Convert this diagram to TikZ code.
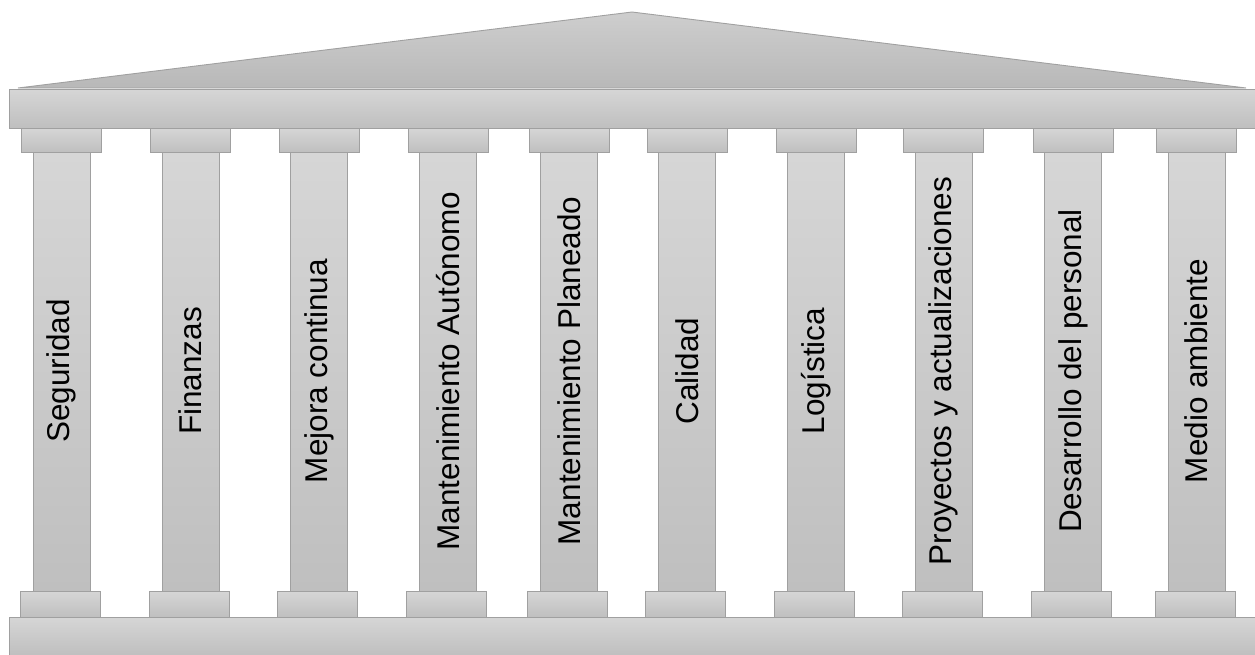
\documentclass[tikz,border=0pt]{standalone}
\usepackage{fontspec}
\setmainfont{Liberation Sans}
\definecolor{stoneTop}{RGB}{214,214,214}
\definecolor{stoneBot}{RGB}{191,191,191}
\definecolor{roofTop}{RGB}{206,206,206}
\definecolor{roofBot}{RGB}{184,184,184}
\definecolor{stoneEdge}{RGB}{160,160,160}
\tikzset{
  stone/.style={draw=stoneEdge, line width=0.9pt, top color=stoneTop, bottom color=stoneBot},
  roof/.style={draw=stoneEdge, line width=0.9pt, top color=roofTop, bottom color=roofBot},
  pillartext/.style={rotate=90, inner sep=0pt, text=black,
    font=\fontsize{31.5}{36}\selectfont}
}
\begin{document}
\begin{tikzpicture}[x=1pt, y=-1pt]
  \useasboundingbox (0,0) rectangle (1255,654);
  % pediment and entablature
  \path[roof] (18,88) -- (632,12) -- (1246,88) -- cycle;
  \path[stone] (9,89) rectangle (1256,128);
  % stylobate
  \path[stone] (9,617) rectangle (1256,655);
  % columns: capital, shaft, base and the pillar label
  \foreach \cx/\name/\txt in {
      61.5/c1/Seguridad,
      190.5/c2/Finanzas,
      319/c3/Mejora continua,
      448/c4/Mantenimiento Autónomo,
      569/c5/Mantenimiento Planeado,
      687/c6/Calidad,
      816/c7/Logística,
      943.5/c8/Proyectos y actualizaciones,
      1073/c9/Desarrollo del personal,
      1196.5/c10/Medio ambiente} {
    \path[stone] (\cx-28.5,152) rectangle (\cx+28.5,591);
    \path[stone] (\cx-40,128) rectangle (\cx+40,152);
    \path[stone] (\cx-41.5,591) rectangle (\cx+38.5,617);
    \node[pillartext] (\name) at (\cx,371) {\txt};
  }
\end{tikzpicture}
\end{document}
